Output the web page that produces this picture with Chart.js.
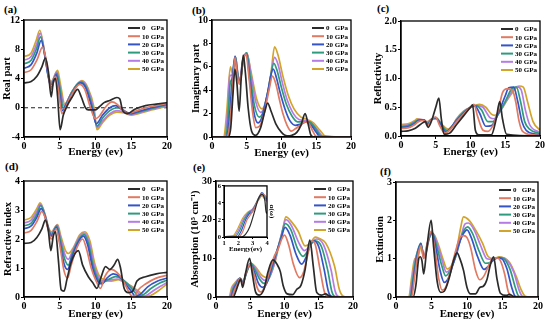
<!DOCTYPE html>
<html lang="en">
<head>
<meta charset="UTF-8">
<title>Optical properties under pressure</title>
<script src="https://cdn.jsdelivr.net/npm/chart.js@4.4.0/dist/chart.umd.min.js"></script>
<style>
  body { margin: 0; width: 550px; height: 325px; background: #fff; position: relative; overflow: hidden; }
  .panel { position: absolute; }
  .tag { position: absolute; font: bold 11px "Liberation Serif", serif; color: #000; }
</style>
</head>
<body>
<div class="tag" style="left:4px;top:3px">(a)</div>
<div class="tag" style="left:192px;top:4px">(b)</div>
<div class="tag" style="left:377px;top:2px">(c)</div>
<div class="tag" style="left:5px;top:160px">(d)</div>
<div class="tag" style="left:193px;top:161px">(e)</div>
<div class="tag" style="left:380px;top:165px">(f)</div>

<div class="panel" style="left:0;top:0;width:175px;height:160px"><canvas id="chartA"></canvas></div>
<div class="panel" style="left:190px;top:0;width:168px;height:161px"><canvas id="chartB"></canvas></div>
<div class="panel" style="left:372px;top:0;width:178px;height:160px"><canvas id="chartC"></canvas></div>
<div class="panel" style="left:0;top:160px;width:175px;height:162px"><canvas id="chartD"></canvas></div>
<div class="panel" style="left:189px;top:160px;width:172px;height:162px"><canvas id="chartE"></canvas></div>
<div class="panel" style="left:374px;top:160px;width:176px;height:162px"><canvas id="chartF"></canvas></div>
<div class="panel" style="left:214px;top:181px;width:62px;height:72px"><canvas id="chartInset"></canvas></div>

<script>
// pressures and colours (same for every panel)
const pressures = ['0   GPa', '10 GPa', '20 GPa', '30 GPa', '40 GPa', '50 GPa'];
const colors = ['#2b2b2b', '#e07a62', '#3454c8', '#2e9a7e', '#b47ce4', '#d3a42b'];

// (a) real part, [energy, value] pairs per pressure
const realPart = [
  [[0,3.4],[1,3.6],[1.8,4.3],[2.5,5.6],[3.0,6.8],[3.4,5.0],[3.8,1.5],[4.1,3.5],[4.4,4.0],[4.7,1.5],[5.05,-3.0],[5.5,-1.0],[6,0.2],[6.7,1.4],[7.5,2.5],[8.0,1.5],[8.6,0],[9.0,-0.3],[10,-0.3],[10.5,0.1],[11.2,0.7],[12,1.0],[13,1.4],[13.4,1.2],[13.8,-0.4],[14.5,-0.8],[15.5,-0.2],[17,0.3],[18.5,0.5],[20,0.7]],
  [[0,4.8],[1,5.2],[1.8,6.5],[2.6,8.3],[3.1,6.5],[3.5,4.0],[3.8,2.5],[4.4,4.3],[4.8,2.5],[5.3,-0.8],[5.8,0],[6.5,1.5],[7.8,3.2],[8.5,2.5],[9.3,0],[10.0,-1.5],[10.5,-1.2],[11.5,0.2],[12.3,0.8],[13,0.5],[13.8,-0.3],[14.5,-0.8],[15.5,-0.5],[17,0],[18.5,0.3],[20,0.6]],
  [[0,5.4],[1,5.9],[1.8,7.5],[2.4,9.2],[3,6.6],[3.4,4.2],[3.8,2.8],[4.5,4.5],[4.9,2.5],[5.4,-0.4],[5.9,0.4],[6.5,1.6],[7.9,3.4],[8.6,2.8],[9.5,0],[10.1,-2.2],[11,-1.0],[12,0],[12.8,0.3],[13.5,0],[14.3,-0.6],[15,-0.8],[16,-0.5],[17.5,-0.1],[20,0.5]],
  [[0,6.0],[1,6.5],[1.8,8.2],[2.3,9.7],[3,6.7],[3.4,4.3],[3.8,3.2],[4.6,4.7],[5.0,2.8],[5.5,0],[6.0,0.7],[6.5,1.8],[8.0,3.5],[8.7,2.8],[9.6,0],[10.2,-2.5],[11,-1.4],[12,-0.4],[13,0],[13.8,-0.3],[14.5,-0.7],[15,-0.8],[16,-0.6],[17.5,-0.2],[20,0.4]],
  [[0,6.5],[1,7.0],[1.8,8.8],[2.25,10.2],[3,6.8],[3.4,4.4],[3.8,3.4],[4.6,4.9],[5.0,3.0],[5.6,0.3],[6.1,1.0],[6.6,2.0],[8.0,3.6],[8.8,2.8],[9.7,0],[10.2,-2.7],[11,-1.8],[12,-0.8],[13,-0.4],[14,-0.6],[15,-0.9],[16,-0.7],[17.5,-0.3],[20,0.3]],
  [[0,7.0],[1,7.5],[1.7,9.2],[2.2,10.6],[3,6.9],[3.4,4.5],[3.8,3.6],[4.7,5.1],[5.1,3.2],[5.7,0.5],[6.2,1.2],[6.7,2.2],[8.1,3.7],[8.9,2.8],[9.8,0],[10.2,-3.0],[11,-2.0],[12,-1.0],[13,-0.6],[14,-0.7],[15,-1.0],[16,-0.8],[17.5,-0.4],[20,0.2]]
];
const zeroLine = [[0,0],[20,0]];

// (b) imaginary part
const imagPart = [
  [[0,0],[2.3,0],[2.7,0.8],[3.0,3.5],[3.3,5.8],[3.6,4.5],[3.9,2.2],[4.2,5.0],[4.5,7.0],[4.8,5.5],[5.2,2.5],[5.7,0.5],[6.3,0.15],[7.0,0.8],[7.6,2.2],[8.0,2.9],[8.5,2.2],[9.2,1.1],[10,0.4],[10.8,0.1],[11.5,0.15],[12.2,0.4],[12.8,1.0],[13.4,2.0],[13.8,1.2],[14.2,0.2],[14.6,0],[20,0]],
  [[0,0],[2.1,0],[2.5,0.8],[2.9,3.5],[3.3,6.8],[3.6,5.5],[3.95,4.5],[4.4,6.3],[4.9,7.1],[5.3,5.2],[5.8,2.3],[6.3,0.8],[6.8,0.9],[7.5,2.0],[8.2,4.0],[8.7,5.2],[9.2,4.5],[9.7,3.2],[10.2,2.0],[10.8,1.0],[11.4,0.5],[12.0,0.7],[12.7,1.0],[13.4,1.3],[14.0,1.1],[14.5,0.5],[15.0,0.05],[20,0]],
  [[0,0],[2.0,0],[2.4,1.0],[2.8,4.0],[3.3,6.9],[3.6,5.6],[3.95,4.6],[4.4,6.5],[4.95,7.1],[5.4,5.0],[6.0,2.2],[6.6,1.2],[7.2,1.7],[7.9,3.5],[8.8,5.8],[9.3,5.0],[9.8,3.8],[10.5,2.4],[11.2,1.4],[12,1.0],[12.8,1.1],[13.6,1.3],[14.3,1.0],[15,0.4],[15.5,0.05],[20,0]],
  [[0,0],[1.9,0],[2.3,1.5],[2.6,4.5],[2.9,5.0],[3.35,6.9],[3.65,5.6],[4.0,4.6],[4.5,6.6],[5.0,7.2],[5.5,5.2],[6.1,2.7],[6.8,1.7],[7.4,2.2],[8.1,4.0],[8.9,6.3],[9.4,5.6],[10,4.2],[10.7,2.8],[11.5,1.8],[12.3,1.3],[13.2,1.3],[14.0,1.3],[14.8,0.8],[15.6,0.1],[16,0],[20,0]],
  [[0,0],[1.8,0],[2.2,1.8],[2.55,5.2],[2.9,5.3],[3.4,6.8],[3.7,5.5],[4.0,4.7],[4.5,6.6],[5.0,7.2],[5.6,5.4],[6.3,3.0],[7.0,2.1],[7.6,2.7],[8.3,4.5],[9.0,6.8],[9.5,6.2],[10.1,4.7],[10.8,3.2],[11.6,2.1],[12.5,1.5],[13.5,1.4],[14.3,1.2],[15.2,0.6],[16.0,0.05],[20,0]],
  [[0,0],[1.7,0],[2.1,2.0],[2.65,6.0],[3.0,5.3],[3.4,6.8],[3.7,5.4],[4.0,4.7],[4.5,6.5],[5.0,7.2],[5.6,5.6],[6.4,3.3],[7.2,2.4],[7.8,3.2],[8.5,5.5],[9.0,7.7],[9.5,7.0],[10.2,5.2],[11,3.5],[11.8,2.4],[12.8,1.7],[13.7,1.5],[14.6,1.2],[15.5,0.6],[16.4,0.05],[20,0]]
];

// (c) reflectivity
const reflectivity = [
  [[0,0.08],[1,0.09],[2,0.13],[3,0.22],[3.5,0.25],[3.9,0.15],[4.5,0.3],[5.0,0.5],[5.45,0.66],[5.8,0.3],[6.2,0.03],[7,0.05],[8,0.2],[9,0.35],[10,0.5],[10.3,0.54],[10.7,0.1],[11.2,0.02],[13,0.02],[13.7,0.3],[14.2,0.6],[14.6,0.3],[15.2,0.03],[20,0]],
  [[0,0.13],[1,0.14],[2,0.2],[2.5,0.25],[3.3,0.27],[3.8,0.18],[4.5,0.3],[5.0,0.33],[5.5,0.2],[6.3,0.05],[7,0.1],[8,0.25],[9,0.38],[10,0.5],[10.5,0.55],[11,0.35],[11.8,0.1],[12.5,0.08],[13.3,0.2],[14,0.45],[14.6,0.75],[15.2,0.82],[16,0.8],[16.5,0.6],[17,0.25],[17.5,0.08],[19,0.02],[20,0.01]],
  [[0,0.15],[1,0.16],[2,0.22],[2.5,0.27],[3.3,0.28],[3.8,0.2],[4.5,0.3],[5.0,0.32],[5.6,0.22],[6.5,0.07],[7,0.12],[8,0.27],[9,0.4],[10,0.5],[10.6,0.53],[11.3,0.4],[12.2,0.17],[13,0.18],[14,0.4],[15,0.7],[15.5,0.84],[16.2,0.85],[16.8,0.6],[17.4,0.25],[18,0.1],[19.5,0.03],[20,0.02]],
  [[0,0.16],[1,0.18],[2,0.24],[2.5,0.28],[3.3,0.28],[3.8,0.22],[4.5,0.3],[5.1,0.31],[5.7,0.22],[6.6,0.09],[7.2,0.14],[8,0.28],[9,0.41],[10,0.5],[10.8,0.53],[11.6,0.45],[12.5,0.25],[13.2,0.25],[14,0.38],[15,0.6],[16,0.83],[16.6,0.85],[17.2,0.6],[17.8,0.25],[18.5,0.12],[20,0.04]],
  [[0,0.18],[1,0.19],[2,0.25],[2.5,0.29],[3.3,0.28],[3.8,0.24],[4.5,0.3],[5.1,0.3],[5.8,0.2],[6.7,0.1],[7.3,0.16],[8,0.29],[9,0.42],[10,0.5],[11,0.53],[11.8,0.5],[12.8,0.32],[13.4,0.3],[14,0.38],[15,0.58],[16,0.78],[16.7,0.86],[17.3,0.8],[17.9,0.45],[18.5,0.2],[20,0.06]],
  [[0,0.2],[1,0.21],[2,0.27],[2.3,0.3],[3.3,0.27],[3.8,0.25],[4.5,0.3],[5.2,0.3],[5.9,0.2],[6.8,0.12],[7.4,0.18],[8,0.3],[9,0.43],[10,0.5],[11.3,0.55],[12.2,0.5],[13,0.38],[13.5,0.36],[14.2,0.42],[15,0.57],[16,0.75],[17,0.87],[17.6,0.85],[18.2,0.6],[19,0.25],[20,0.1]]
];

// (d) refractive index
const refractive = [
  [[0,1.85],[1,1.88],[1.8,2.05],[2.5,2.35],[3.0,2.65],[3.4,2.3],[3.75,1.6],[4.1,2.1],[4.4,2.25],[4.8,1.3],[5.2,0.25],[5.6,0.2],[6.0,0.6],[6.6,1.2],[7.6,1.6],[8.2,1.1],[9.0,0.7],[9.6,0.5],[10.2,0.3],[10.8,0.7],[11.4,1.05],[12,0.95],[12.6,1.1],[13.1,1.3],[13.5,1.0],[14.0,0.3],[14.6,0.15],[15.2,0.2],[15.8,0.55],[17,0.7],[18.5,0.8],[20,0.85]],
  [[0,2.2],[1,2.3],[1.8,2.6],[2.5,2.95],[3.0,2.7],[3.4,2.3],[3.8,2.0],[4.5,2.35],[5.0,1.8],[5.6,0.9],[6.1,0.65],[6.6,1.1],[7.4,1.7],[8.2,2.0],[8.7,1.7],[9.4,1.0],[10,0.6],[10.7,0.3],[11.3,0.7],[12.2,0.95],[13,0.85],[13.8,0.6],[14.4,0.3],[15,0.05],[15.4,0.02],[16,0.25],[17,0.45],[18.5,0.65],[20,0.75]],
  [[0,2.35],[1,2.45],[1.8,2.75],[2.4,3.05],[3.0,2.72],[3.4,2.35],[3.8,2.1],[4.55,2.4],[5.0,1.9],[5.6,1.15],[6.1,0.95],[6.6,1.3],[7.5,1.85],[8.3,2.1],[8.9,1.8],[9.6,1.0],[10.3,0.55],[10.9,0.45],[11.6,0.65],[12.5,0.8],[13.4,0.7],[14.2,0.45],[15,0.2],[15.6,0.02],[16.3,0.1],[17.3,0.35],[18.7,0.55],[20,0.65]],
  [[0,2.45],[1,2.55],[1.8,2.85],[2.35,3.15],[3.0,2.75],[3.4,2.38],[3.8,2.15],[4.6,2.45],[5.05,2.0],[5.7,1.3],[6.2,1.1],[6.7,1.45],[7.6,1.95],[8.4,2.15],[9.0,1.85],[9.7,1.05],[10.4,0.6],[11.0,0.5],[11.8,0.6],[12.8,0.7],[13.7,0.62],[14.5,0.45],[15.3,0.22],[16.1,0.02],[16.8,0.1],[17.8,0.3],[19,0.48],[20,0.58]],
  [[0,2.55],[1,2.65],[1.8,2.95],[2.3,3.2],[3.0,2.78],[3.4,2.4],[3.8,2.2],[4.65,2.48],[5.1,2.05],[5.75,1.45],[6.2,1.3],[6.8,1.6],[7.7,2.05],[8.4,2.2],[9.1,1.9],[9.8,1.1],[10.5,0.65],[11.1,0.55],[12,0.58],[13,0.62],[13.9,0.55],[14.8,0.4],[15.7,0.2],[16.6,0.02],[17.3,0.08],[18.3,0.25],[19.3,0.4],[20,0.5]],
  [[0,2.65],[1,2.75],[1.8,3.05],[2.25,3.25],[3.0,2.8],[3.4,2.42],[3.8,2.25],[4.7,2.5],[5.15,2.1],[5.8,1.6],[6.2,1.5],[6.9,1.7],[7.8,2.15],[8.5,2.25],[9.2,1.95],[9.9,1.15],[10.6,0.7],[11.2,0.6],[12.2,0.55],[13.2,0.6],[14.0,0.5],[15,0.38],[16,0.2],[17,0.02],[17.7,0.05],[18.7,0.2],[19.5,0.35],[20,0.45]]
];

// (e) absorption, 10^5 cm^-1
const absorption = [
  [[0,0],[2.5,0],[2.9,1.5],[3.2,3.0],[3.6,4.6],[3.9,2.5],[4.3,6.0],[4.9,10.0],[5.3,6.0],[5.8,1.2],[6.3,0.5],[7.0,2.0],[7.6,6.5],[8.3,9.6],[8.9,8.5],[9.4,6.5],[9.8,3.0],[10.4,0.8],[11.2,0.6],[11.8,2.0],[12.4,3.0],[13.0,7.0],[13.7,14.7],[14.2,8.0],[14.7,1.2],[15.4,0.5],[16,0.8],[16.5,0.3],[17,0],[20,0]],
  [[0,0],[2.3,0],[2.7,1.8],[3.1,3.2],[3.5,4.8],[3.9,3.2],[4.4,6.5],[5.0,8.5],[5.5,6.0],[6.0,2.5],[6.5,1.3],[7.1,2.5],[7.8,6.5],[8.5,10.5],[9.1,12.5],[9.6,15.0],[10.0,16.0],[10.6,13.5],[11.3,8.5],[12.2,5.0],[12.8,6.5],[13.4,11.0],[14.0,14.5],[14.5,13.5],[15.2,7.0],[15.8,1.5],[16.2,0.2],[17,0],[20,0]],
  [[0,0],[2.2,0],[2.6,2.0],[3.0,3.3],[3.5,4.8],[3.9,3.5],[4.5,6.8],[5.0,8.6],[5.6,6.5],[6.2,3.5],[6.8,2.5],[7.4,3.5],[8.1,7.5],[8.8,11.5],[9.4,14.5],[10.1,18.0],[10.8,16.0],[11.7,11.0],[12.5,8.5],[13.2,10.5],[13.8,13.8],[14.3,14.5],[15.0,13.0],[15.8,7.0],[16.4,1.5],[16.8,0.2],[17.5,0],[20,0]],
  [[0,0],[2.1,0],[2.5,2.2],[2.9,3.4],[3.5,4.8],[3.9,3.8],[4.6,7.0],[5.1,8.7],[5.7,7.0],[6.4,4.5],[7.0,3.5],[7.6,4.3],[8.3,8.0],[9.0,12.5],[9.5,15.5],[10.1,19.0],[10.9,17.5],[11.9,12.5],[12.7,10.5],[13.4,12.0],[14.0,14.0],[14.5,14.5],[15.4,13.0],[16.3,7.0],[16.9,1.5],[17.3,0.2],[18,0],[20,0]],
  [[0,0],[2.0,0],[2.4,2.3],[2.8,3.5],[3.5,4.8],[3.9,4.0],[4.6,7.2],[5.1,8.7],[5.8,7.3],[6.5,5.2],[7.1,4.3],[7.8,5.0],[8.5,8.5],[9.1,13.0],[9.6,16.5],[10.2,20.0],[11.0,18.5],[12.1,14.0],[12.9,12.0],[13.6,13.0],[14.2,14.5],[14.7,15.0],[15.7,13.5],[16.8,7.0],[17.4,1.5],[17.8,0.2],[18.5,0],[20,0]],
  [[0,0],[1.9,0],[2.3,2.5],[2.7,3.5],[3.5,4.8],[3.9,4.2],[4.7,7.4],[5.1,8.7],[5.9,7.5],[6.6,5.8],[7.2,5.1],[7.9,5.7],[8.6,9.0],[9.2,13.5],[9.7,17.0],[10.2,20.7],[11.0,19.5],[12.0,17.0],[13.0,13.2],[13.7,13.8],[14.5,15.5],[15.0,15.2],[16.0,14.0],[17.3,8.0],[18.0,2.0],[18.5,0.3],[19.2,0],[20,0]]
];

// (e) inset, alpha(omega) between 1 and 4 eV
const absInset = [
  [[1,0],[2.2,0],[2.5,0.3],[2.8,1.2],[3.1,2.8],[3.4,4.5],[3.65,5.0],[3.85,4.3],[3.95,2.8],[4,3.0]],
  [[1,0],[2.0,0],[2.3,0.6],[2.6,2.0],[2.8,2.5],[3.1,3.3],[3.4,4.5],[3.65,5.1],[3.9,4.8],[4,4.6]],
  [[1,0],[1.9,0],[2.2,0.7],[2.5,2.0],[2.75,2.7],[3.0,3.0],[3.4,4.5],[3.65,5.2],[3.9,4.7],[4,4.5]],
  [[1,0.05],[1.8,0.1],[2.1,0.8],[2.4,2.0],[2.7,2.8],[3.0,3.2],[3.4,4.5],[3.65,5.0],[3.9,4.5],[4,4.4]],
  [[1,0.05],[1.7,0.1],[2.0,0.8],[2.35,2.1],[2.7,2.9],[3.0,3.3],[3.4,4.4],[3.65,4.9],[3.9,4.4],[4,4.3]],
  [[1,0.05],[1.6,0.1],[1.9,0.8],[2.3,2.2],[2.65,2.9],[3.0,3.3],[3.4,4.3],[3.65,4.8],[3.9,4.3],[4,4.2]]
];

// (f) extinction
const extinction = [
  [[0,0],[2.4,0],[2.8,0.3],[3.2,1.0],[3.4,1.05],[3.65,0.95],[3.9,0.6],[4.3,1.2],[4.95,2.0],[5.3,1.3],[5.8,0.4],[6.3,0.12],[6.8,0.15],[7.5,0.5],[8.1,0.95],[8.6,1.15],[9.0,1.0],[9.5,0.7],[10,0.25],[10.5,0.08],[11.2,0.08],[11.8,0.25],[12.3,0.28],[12.8,0.45],[13.3,0.85],[13.75,1.05],[14.2,0.5],[14.7,0.1],[15.5,0.04],[16,0.07],[16.5,0.02],[17,0],[20,0]],
  [[0,0],[2.2,0],[2.6,0.5],[3.0,1.0],[3.5,1.35],[3.9,1.0],[4.4,1.4],[5.0,1.72],[5.5,1.2],[6.0,0.5],[6.5,0.18],[7.0,0.25],[7.7,0.7],[8.4,1.2],[9.0,1.55],[9.5,1.6],[10.0,1.55],[10.5,1.3],[11.2,0.7],[11.8,0.45],[12.4,0.55],[13.0,0.8],[13.6,1.0],[14.2,1.02],[14.7,0.95],[15.3,0.6],[15.8,0.15],[16.2,0.02],[17,0],[20,0]],
  [[0,0],[2.1,0],[2.5,0.5],[2.9,1.0],[3.5,1.4],[3.9,1.02],[4.5,1.45],[5.05,1.7],[5.6,1.3],[6.2,0.7],[6.8,0.38],[7.4,0.5],[8.1,0.9],[8.8,1.35],[9.4,1.62],[10.0,1.75],[10.6,1.55],[11.5,1.05],[12.4,0.72],[13.0,0.8],[13.6,0.95],[14.2,1.02],[14.9,1.0],[15.6,0.75],[16.3,0.25],[16.8,0.02],[17.5,0],[20,0]],
  [[0,0],[2.0,0],[2.4,0.5],[2.8,1.0],[3.5,1.4],[3.95,1.03],[4.6,1.5],[5.1,1.68],[5.7,1.35],[6.4,0.85],[7.0,0.55],[7.6,0.68],[8.3,1.0],[9.0,1.45],[9.6,1.75],[10.1,1.83],[10.8,1.65],[11.7,1.2],[12.6,0.88],[13.3,0.9],[14.0,1.0],[14.6,1.03],[15.3,0.98],[16.1,0.7],[16.8,0.25],[17.3,0.02],[18,0],[20,0]],
  [[0,0],[1.9,0],[2.3,0.5],[2.75,1.0],[3.5,1.35],[4.0,1.05],[4.7,1.55],[5.15,1.66],[5.8,1.4],[6.5,0.95],[7.1,0.65],[7.8,0.78],[8.5,1.1],[9.2,1.6],[9.7,1.9],[10.2,1.93],[11.0,1.75],[11.9,1.35],[12.8,1.0],[13.6,0.98],[14.3,1.02],[14.9,1.03],[15.7,0.95],[16.6,0.65],[17.3,0.2],[17.8,0.02],[18.5,0],[20,0]],
  [[0,0],[1.8,0],[2.2,0.5],[2.65,1.0],[2.9,0.95],[3.55,1.3],[4.05,1.05],[4.8,1.6],[5.25,1.65],[5.9,1.4],[6.6,1.0],[7.2,0.73],[7.9,0.85],[8.6,1.3],[9.1,1.8],[9.5,2.09],[10.3,2.0],[11.2,1.75],[12.2,1.4],[13.0,1.05],[13.8,1.0],[14.5,1.05],[15.2,1.02],[16.0,0.9],[16.9,0.55],[17.6,0.2],[18.2,0.02],[19,0],[20,0]]
];

// axis ranges [min, max, step]
const energyRange = [0, 20, 5];
const insetEnergyRange = [1, 4, 1];

Chart.defaults.font.family = '"Liberation Serif", "Times New Roman", serif';
Chart.defaults.font.weight = 'bold';
Chart.defaults.color = '#000';

const FONT = 'bold 7px "Liberation Serif", serif';

// box around the plot area
const frame = {
  id: 'frame',
  afterDatasetsDraw(chart) {
    const {ctx, chartArea: a} = chart;
    ctx.save();
    ctx.strokeStyle = '#000';
    ctx.lineWidth = 1.3;
    ctx.strokeRect(a.left, a.top, a.right - a.left, a.bottom - a.top);
    ctx.restore();
  }
};

// legend drawn inside the upper right corner
const insideLegend = {
  id: 'insideLegend',
  afterDatasetsDraw(chart, args, opts) {
    if (!opts.show) return;
    const {ctx, chartArea} = chart;
    ctx.save();
    ctx.font = FONT;
    ctx.textBaseline = 'middle';
    pressures.forEach((p, i) => {
      const y = chartArea.top + 8 + i * 8.2;
      const x = chartArea.right - 39;
      ctx.strokeStyle = colors[i];
      ctx.lineWidth = 2;
      ctx.beginPath();
      ctx.moveTo(x, y);
      ctx.lineTo(x + 12, y);
      ctx.stroke();
      ctx.fillStyle = '#000';
      ctx.fillText(p, x + 14, y + 0.5);
    });
    ctx.restore();
  }
};
Chart.register(frame, insideLegend);

function toXY(pairs) {
  return pairs.map(p => ({x: p[0], y: p[1]}));
}

function makeDatasets(series, width) {
  return series.map((s, i) => ({
    label: pressures[i],
    data: toXY(s),
    borderColor: colors[i],
    borderWidth: width,
    pointRadius: 0,
    fill: false,
    cubicInterpolationMode: 'monotone'
  }));
}

// p: {id, series, yRange, yTitle, yW, xH, top, right, fmt, extra}
function makePanel(p) {
  const datasets = makeDatasets(p.series, 1.7);
  if (p.extra) datasets.push(p.extra);
  return new Chart(document.getElementById(p.id), {
    type: 'line',
    data: { datasets },
    options: {
      responsive: true,
      maintainAspectRatio: false,
      devicePixelRatio: 1,
      animation: false,
      events: [],
      layout: { padding: { top: p.top, right: p.right, left: 0, bottom: 0 } },
      plugins: {
        legend: { display: false },
        tooltip: { enabled: false },
        insideLegend: { show: true }
      },
      scales: {
        x: {
          type: 'linear',
          min: energyRange[0], max: energyRange[1],
          ticks: { stepSize: energyRange[2], font: { size: 10 }, padding: 0, maxRotation: 0 },
          grid: { display: true, drawOnChartArea: false, tickLength: 3, color: '#000' },
          border: { color: '#000', width: 1.3 },
          title: { display: true, text: 'Energy (ev)', font: { size: 11 }, padding: { top: 0, bottom: 1 } },
          afterFit: s => { s.height = p.xH; }
        },
        y: {
          min: p.yRange[0], max: p.yRange[1],
          ticks: { stepSize: p.yRange[2], font: { size: 10 }, padding: 1,
                   callback: v => p.fmt ? v.toFixed(p.fmt) : v },
          grid: { display: true, drawOnChartArea: false, tickLength: 3, color: '#000' },
          border: { color: '#000', width: 1.3 },
          title: { display: true, text: p.yTitle, font: { size: 10.5 }, padding: { top: p.tpad || 0, bottom: 0 } },
          afterFit: s => { s.width = p.yW; }
        }
      }
    }
  });
}

makePanel({ id: 'chartA', series: realPart, yRange: [-4, 12, 4], yTitle: 'Real part', yW: 24, xH: 23, top: 20, right: 8, tpad: 1,
  extra: { data: toXY(zeroLine), borderColor: '#222', borderDash: [4, 3], borderWidth: 1.2, pointRadius: 0 } });
makePanel({ id: 'chartB', series: imagPart, yRange: [0, 10, 2], yTitle: 'Imaginary part', yW: 22, xH: 24, top: 20, right: 7 });
makePanel({ id: 'chartC', series: reflectivity, yRange: [0, 2, 0.5], yTitle: 'Reflectivity', yW: 29, xH: 24, top: 21, right: 10, fmt: 1 });
makePanel({ id: 'chartD', series: refractive, yRange: [0, 4, 1], yTitle: 'Refractive index', yW: 24, xH: 25, top: 21, right: 8, tpad: 2 });
makePanel({ id: 'chartE', series: absorption, yRange: [0, 30, 10], yTitle: 'Absorption (10\u2075 cm\u207B\u00B9)', yW: 27, xH: 25, top: 21, right: 8 });
makePanel({ id: 'chartF', series: extinction, yRange: [0, 3, 1], yTitle: 'Extinction', yW: 22, xH: 25, top: 22, right: 12 });

// inset of panel (e)
new Chart(document.getElementById('chartInset'), {
  type: 'line',
  data: { datasets: makeDatasets(absInset, 1.2) },
  options: {
    responsive: true,
    maintainAspectRatio: false,
    devicePixelRatio: 1,
    animation: false,
    events: [],
    layout: { padding: { top: 4, right: 0, left: 0, bottom: 0 } },
    plugins: { legend: { display: false }, tooltip: { enabled: false }, insideLegend: { show: false } },
    scales: {
      x: {
        type: 'linear',
        min: insetEnergyRange[0], max: insetEnergyRange[1],
        ticks: { stepSize: insetEnergyRange[2], font: { size: 6.5 }, padding: 0, maxRotation: 0 },
        grid: { display: true, drawOnChartArea: false, tickLength: 2, color: '#000' },
        border: { color: '#000', width: 1 },
        title: { display: true, text: 'Energy(ev)', font: { size: 7 }, padding: { top: 0, bottom: 0 } },
        afterFit: s => { s.height = 16; }
      },
      y: {
        min: 0, max: 6,
        ticks: { stepSize: 2, font: { size: 6.5 }, padding: 1 },
        grid: { display: true, drawOnChartArea: false, tickLength: 2, color: '#000' },
        border: { color: '#000', width: 1 },
        afterFit: s => { s.width = 10; }
      },
      y2: {
        position: 'right',
        min: 0, max: 6,
        ticks: { display: false },
        grid: { display: false },
        border: { display: false },
        title: { display: true, text: '\u03B1(\u03C9)', font: { size: 7 }, padding: { top: 0, bottom: 0 } },
        afterFit: s => { s.width = 9; }
      }
    }
  }
});
</script>
</body>
</html>
